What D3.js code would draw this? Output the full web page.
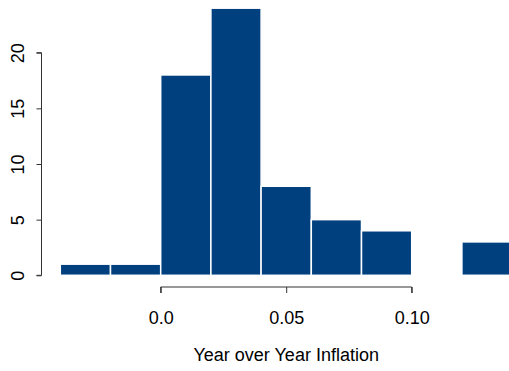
<!DOCTYPE html>
<html>
<head>
<meta charset="utf-8">
<script src="https://cdn.jsdelivr.net/npm/d3@7"></script>
<style>
html,body{margin:0;padding:0;background:#fff;}
svg{display:block;}
text{font-family:"Liberation Sans", Arial, sans-serif;}
</style>
</head>
<body>
<svg id="chart" width="509" height="371"></svg>
<script>
const binStarts = [-0.04, -0.02, 0.00, 0.02, 0.04, 0.06, 0.08, 0.10, 0.12];
const binWidth = 0.02;
const counts = [1, 1, 18, 24, 8, 5, 4, 0, 3];
const xTicks = [0, 0.05, 0.10];
const xTickLabels = ["0.0", "0.05", "0.10"];
const yTicks = [0, 5, 10, 15, 20];
const xTitle = "Year over Year Inflation";

const svg = d3.select("#chart");
const x = d3.scaleLinear().domain([0, 0.10]).range([160.7, 411.7]);
const y = d3.scaleLinear().domain([0, 20]).range([275.3, 52.7]);

svg.append("g").selectAll("rect")
  .data(binStarts.map((s, i) => ({s, c: counts[i]})).filter(d => d.c > 0))
  .join("rect")
  .attr("x", d => x(d.s))
  .attr("width", d => x(d.s + binWidth) - x(d.s))
  .attr("y", d => y(d.c))
  .attr("height", d => y(0) - y(d.c))
  .attr("fill", "#00407f")
  .attr("stroke", "#ffffff")
  .attr("stroke-width", 1.5);

const xAxis = svg.append("g")
  .attr("transform", "translate(0,287)")
  .call(d3.axisBottom(x).tickValues(xTicks).tickSize(6).tickPadding(18)
    .tickFormat((d, i) => xTickLabels[i]));
xAxis.select(".domain").attr("stroke", "#333").attr("d", `M${x(0)},6V0H${x(0.10)}V6`);
xAxis.selectAll(".tick line").attr("stroke", "#333");
xAxis.selectAll(".tick text").attr("font-size", 18).attr("fill", "#000")
  .attr("font-family", "Liberation Sans, Arial, sans-serif");

const yAxis = svg.append("g")
  .attr("transform", "translate(41.5,0)")
  .call(d3.axisLeft(y).tickValues(yTicks).tickSize(5).tickFormat(d3.format("d")));
yAxis.select(".domain").attr("stroke", "#333").attr("d", `M-5,${y(20)}H0V${y(0)}H-5`);
yAxis.selectAll(".tick line").attr("stroke", "#333");
yAxis.selectAll(".tick text").remove();
yAxis.selectAll(".tick").append("text")
  .attr("transform", "translate(-17.5,0) rotate(-90)")
  .attr("text-anchor", "middle")
  .attr("dy", 0)
  .attr("fill", "#000")
  .attr("font-size", 18)
  .attr("font-family", "Liberation Sans, Arial, sans-serif")
  .text(d => d);

svg.append("text")
  .attr("x", x(0.05))
  .attr("y", 361)
  .attr("text-anchor", "middle")
  .attr("font-size", 18)
  .attr("fill", "#000")
  .text(xTitle);
</script>
</body>
</html>
